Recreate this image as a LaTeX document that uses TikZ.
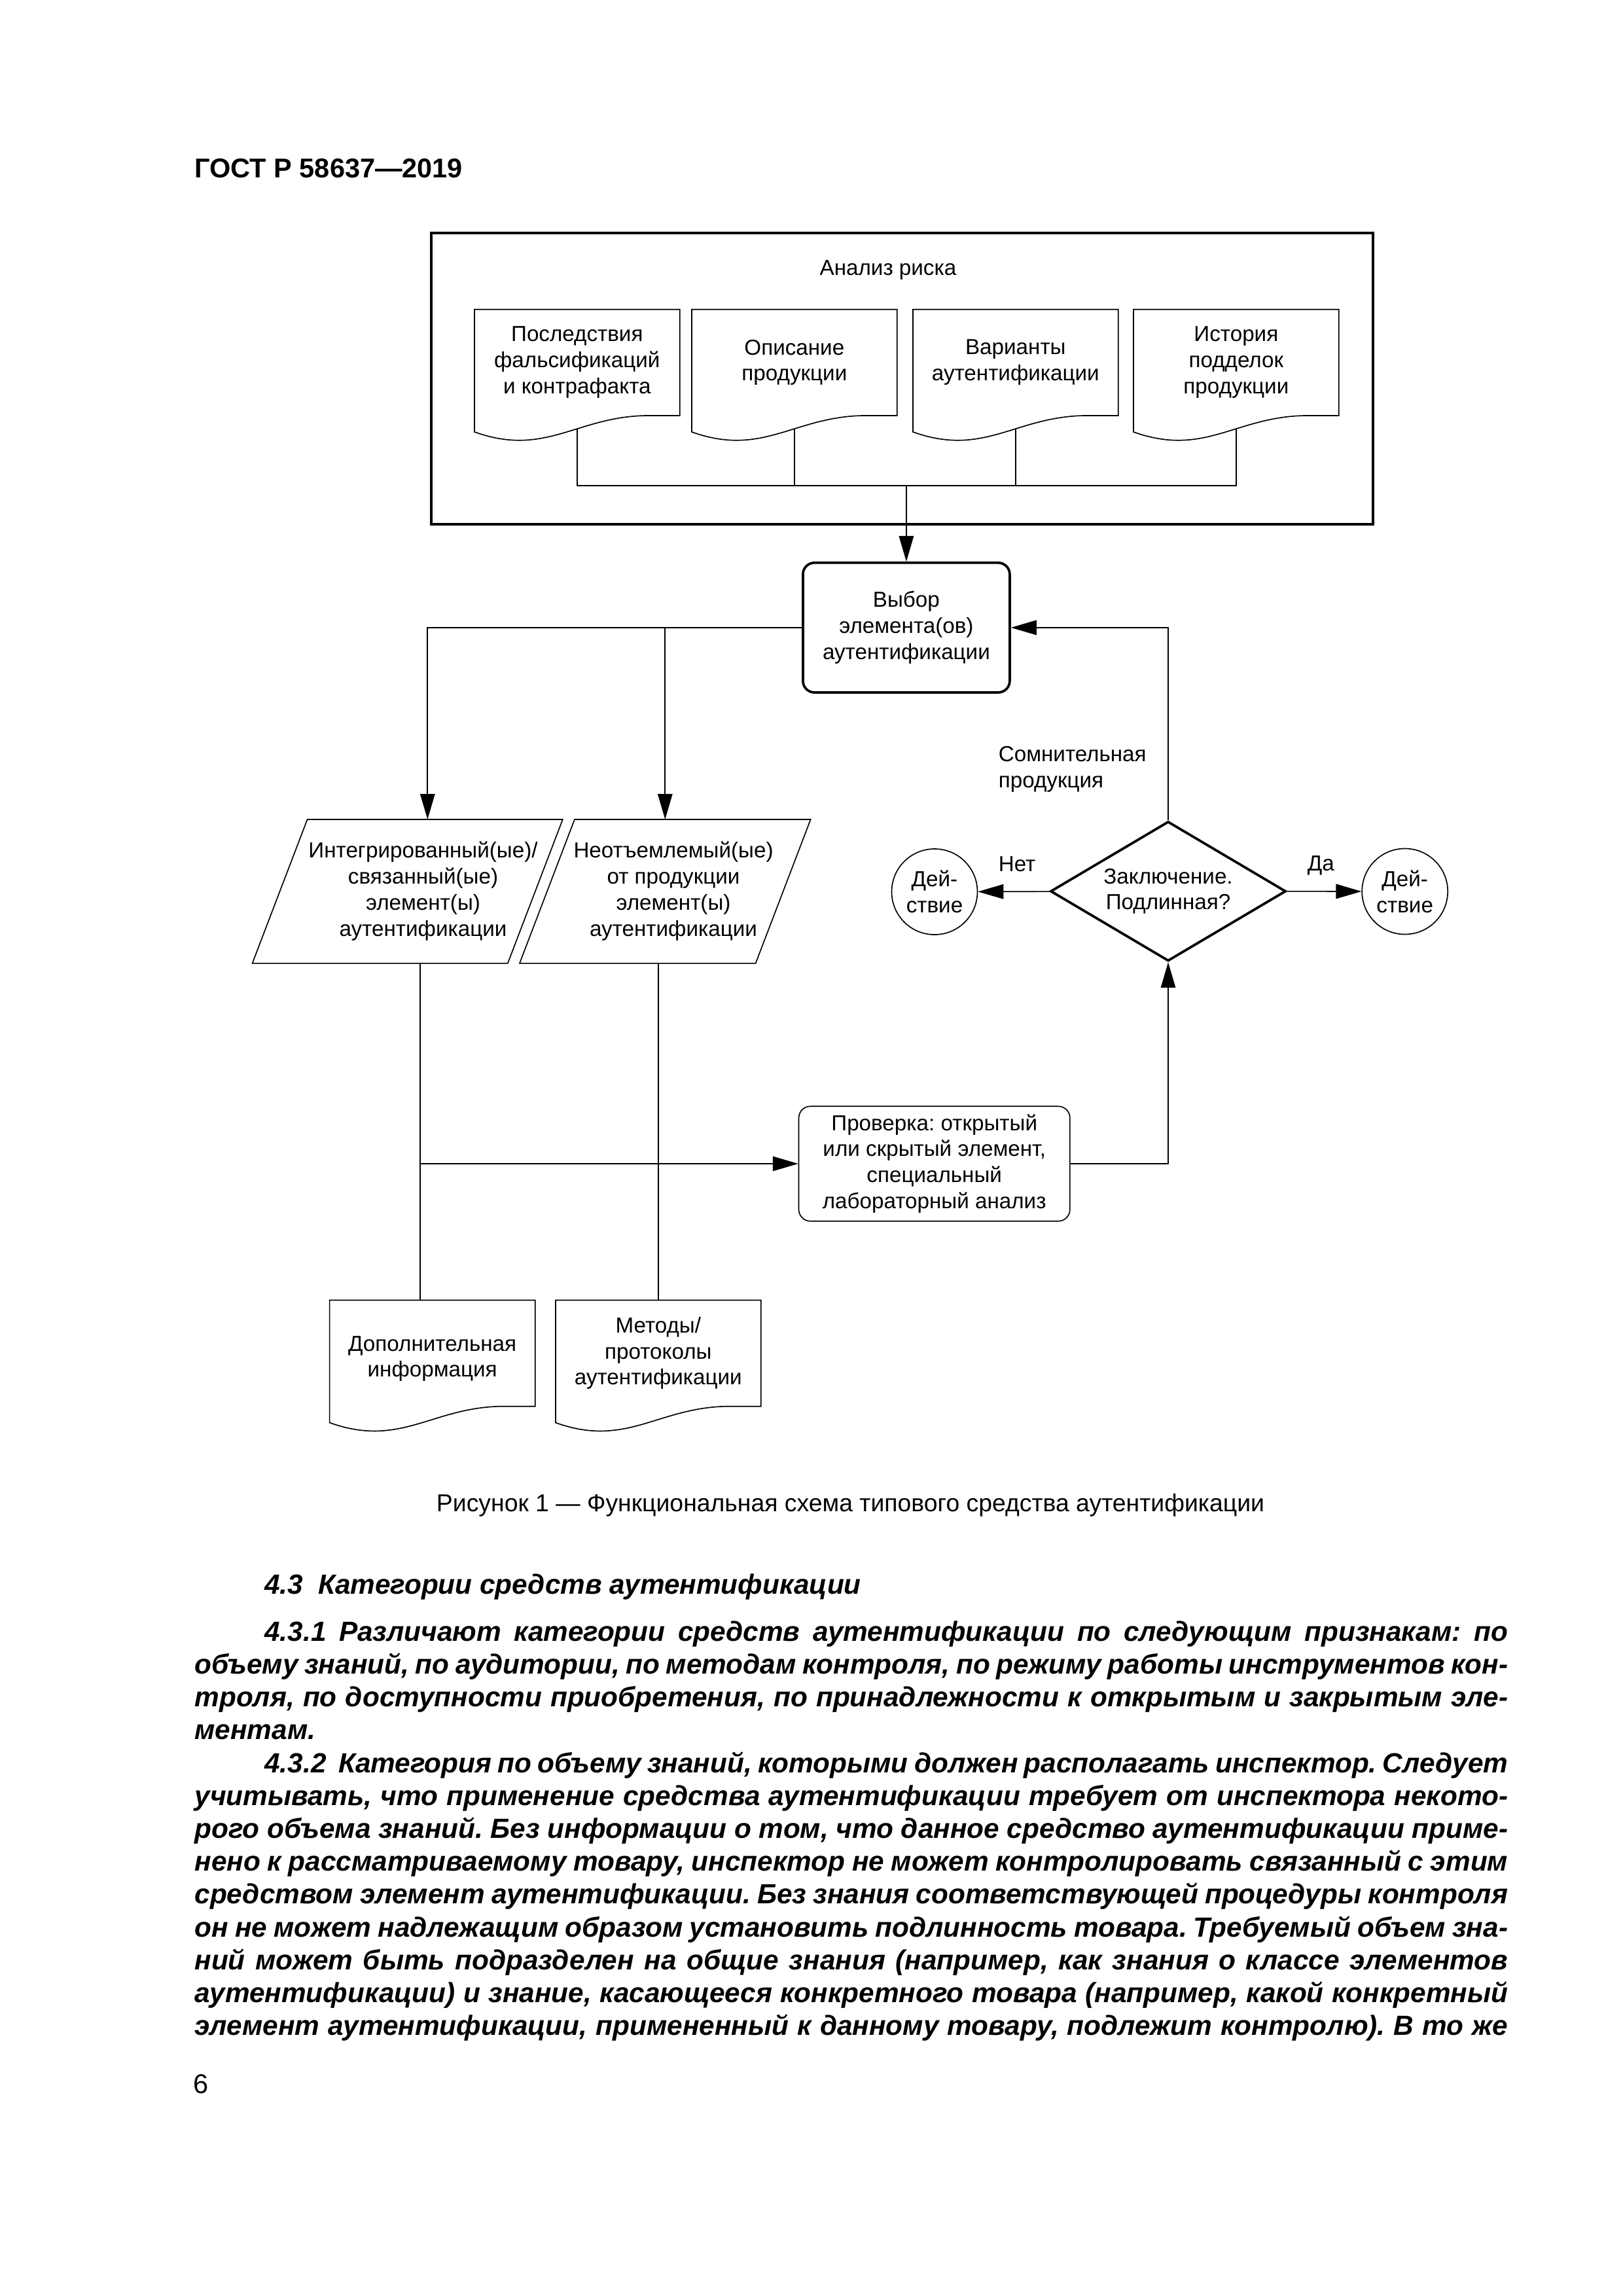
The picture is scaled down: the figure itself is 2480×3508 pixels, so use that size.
\documentclass[tikz,border=0pt]{standalone}
\usepackage{fontspec}
\setmainfont{Liberation Sans}
\usetikzlibrary{calc,shapes.geometric,arrows.meta}

\newlength{\pxu}
\setlength{\pxu}{0.0846667mm}
\newcommand{\jline}[1]{\makebox[169.9mm][s]{#1}}
\frenchspacing

\begin{document}
\begin{tikzpicture}[x=0.0846667mm, y=-0.0846667mm,
    thinline/.style ={line width=0.4pt},
    thickline/.style ={line width=0.9pt},
    arrowto/.style ={-{Triangle[length=3.3mm,width=1.9mm]}},
    note/.style ={inner sep=0pt, font=\fontsize{8}{9.6}\selectfont},
    docbox/.style ={anchor=north west, minimum width=312\pxu, minimum height=160.6\pxu,
      inner sep=0pt, align=center, font=\fontsize{8}{9.6}\selectfont},
    choicebox/.style ={draw, thickline, rounded corners=1.5mm, minimum width=316\pxu,
      minimum height=198.2\pxu, inner sep=0pt, align=center, font=\fontsize{8}{9.6}\selectfont},
    checkbox/.style ={draw, thinline, rounded corners=1.5mm, minimum width=414.3\pxu,
      minimum height=175.4\pxu, inner sep=0pt, align=center, font=\fontsize{8}{9.6}\selectfont},
    slantbox/.style ={inner sep=0pt, minimum height=218.2\pxu},
    verdictbox/.style ={diamond, aspect=1.69, draw, thickline, minimum width=359.7\pxu, minimum height=213.3\pxu,
      inner sep=0pt, align=center, font=\fontsize{8}{9.6}\selectfont},
    actbox/.style ={circle, draw, thinline, minimum size=131\pxu, inner sep=0pt, align=center,
      font=\fontsize{8}{9.6}\selectfont},
    bodyline/.style ={anchor=base west, inner sep=0pt, font=\fontsize{10.2}{12.08}\selectfont\bfseries\itshape}]

   \fill[white] (0,0) rectangle (2480,3508);
   \useasboundingbox (0,0) rectangle (2480,3508);

   \node[anchor=base west, inner sep=0pt, font=\fontsize{10}{12}\selectfont\bfseries] (head) at (296.7,271.7) {ГОСТ Р 58637—2019};

   % risk analysis block
   \node[draw, thickline, minimum width=1439\pxu, minimum height=445\pxu, inner sep=0pt] (risk) at (1378.5,578.5) {};
   \node[note] (risktitle) at (1357,413) {Анализ риска};
   \node[docbox] (d1) at (725,472.7) {Последствия\\фальсификаций\\и контрафакта};
   \node[docbox] (d2) at (1057,472.7) {Описание\\продукции};
   \node[docbox] (d3) at (1395,472.7) {Варианты\\аутентификации};
   \node[docbox] (d4) at (1732,472.7) {История\\подделок\\продукции};

   \node[choicebox] (choice) at (1384.9,958.9) {Выбор\\элемента(ов)\\аутентификации};

   \node[slantbox, minimum width=472.6\pxu] (p1) at (622.7,1361.9) {};
   \node[slantbox, minimum width=443\pxu] (p2) at (1016.3,1361.9) {};
   \node[note, align=center] (p1txt) at (646.5,1361.6) {Интегрированный(ые)/\\связанный(ые)\\элемент(ы)\\аутентификации};
   \node[note, align=center] (p2txt) at (1029,1361.6) {Неотъемлемый(ые)\\от продукции\\элемент(ы)\\аутентификации};

   \node[verdictbox] (verdict) at (1785,1361.7) {Заключение.\\Подлинная?};
   \node[actbox] (actL) at (1428,1362.5) {Дей-\\ствие};
   \node[actbox] (actR) at (2146.7,1362) {Дей-\\ствие};
   \node[note, anchor=west, align=left] (doubt) at (1525,1175) {Сомнительная\\продукция};
   \node[note, anchor=base west] (no) at (1525,1331.7) {Нет};
   \node[note, anchor=base west] (yes) at (1997,1330) {Да};

   \node[checkbox] (check) at (1427.7,1778) {Проверка: открытый\\или скрытый элемент,\\специальный\\лабораторный анализ};

   \node[docbox, minimum width=312.4\pxu] (d5) at (503.6,1986.4) {\mbox{}\\Дополнительная\\информация};
   \node[docbox] (d6) at (849,1986.4) {Методы/\\протоколы\\аутентификации};

   % document outlines
   \foreach \d in {d1,d2,d3,d4,d5,d6} {
     \draw[thinline] (\d.south east) -- (\d.north east) -- (\d.north west) -- ($(\d.south west)+(0,25)$)
       .. controls ($(\d.south west)!0.35!(\d.south east)+(0,64.4)$) and (\d.south)
       .. ($(\d.south west)!0.85!(\d.south east)$) -- cycle;
     \coordinate (\d-b) at ($(\d.south)+(0,20)$);
   }
   \draw[thinline] (p1.south west) -- ($(p1.north west)+(84,0)$) -- (p1.north east) -- ($(p1.south east)+(-84,0)$) -- cycle;
   \draw[thinline] (p2.south west) -- ($(p2.north west)+(84,0)$) -- (p2.north east) -- ($(p2.south east)+(-84,0)$) -- cycle;

   \coordinate (bus) at (1384.9,742.3);
   \coordinate (p1in) at ($(p1.north)+(30.6,0)$);
   \coordinate (p1out) at ($(p1.south)+(19,0)$);

   \draw[thinline] (d1-b) |- (d4-b |- bus) -- (d4-b);
   \draw[thinline] (d2-b) -- (d2-b |- bus);
   \draw[thinline] (d3-b) -- (d3-b |- bus);
   \draw[thinline, arrowto] (bus) -- (choice);
   \draw[thinline, arrowto] (choice.west) -| (p1in);
   \draw[thinline, arrowto] (p2.north |- choice.west) -- (p2.north);
   \draw[thinline] (p1out) -- (p1out |- d5.north);
   \draw[thinline] (d6.north |- p2.south) -- (d6.north);
   \draw[thinline, arrowto] (p1out |- check.west) -- (check.west);
   \draw[thinline, arrowto] (check.east) -| (verdict.south);
   \draw[thinline, arrowto] (verdict.north) |- (choice.east);
   \draw[thinline, arrowto] (verdict) -- (actL);
   \draw[thinline, arrowto] (verdict) -- (actR);

   \node[anchor=base, inner sep=0pt, font=\fontsize{9}{11}\selectfont] (caption) at (1299.5,2309) {Рисунок 1 — Функциональная схема типового средства аутентификации};

   % body text
   \node[bodyline] (h43) at (403.2,2435.5) {4.3\ \ Категории средств аутентификации};
   \node[bodyline] (a1) at (296.7,2507.2) {\jline{\hspace*{9.05mm}4.3.1 Различают категории средств аутентификации по следующим признакам: по}};
   \node[bodyline] (a2) at (296.7,2557.4) {\jline{объему знаний, по аудитории, по методам контроля, по режиму работы инструментов кон-}};
   \node[bodyline] (a3) at (296.7,2607.6) {\jline{троля, по доступности приобретения, по принадлежности к открытым и закрытым эле-}};
   \node[bodyline] (a4) at (296.7,2657.8) {ментам.};
   \node[bodyline] (b1) at (296.7,2708.0) {\jline{\hspace*{9.05mm}4.3.2\ \ Категория по объему знаний, которыми должен располагать инспектор. Следует}};
   \node[bodyline] (b2) at (296.7,2758.2) {\jline{учитывать, что применение средства аутентификации требует от инспектора некото-}};
   \node[bodyline] (b3) at (296.7,2808.4) {\jline{рого объема знаний. Без информации о том, что данное средство аутентификации приме-}};
   \node[bodyline] (b4) at (296.7,2858.6) {\jline{нено к рассматриваемому товару, инспектор не может контролировать связанный с этим}};
   \node[bodyline] (b5) at (296.7,2908.8) {\jline{средством элемент аутентификации. Без знания соответствующей процедуры контроля}};
   \node[bodyline] (b6) at (296.7,2959.0) {\jline{он не может надлежащим образом установить подлинность товара. Требуемый объем зна-}};
   \node[bodyline] (b7) at (296.7,3009.2) {\jline{ний может быть подразделен на общие знания (например, как знания о классе элементов}};
   \node[bodyline] (b8) at (296.7,3059.4) {\jline{аутентификации) и знание, касающееся конкретного товара (например, какой конкретный}};
   \node[bodyline] (b9) at (296.7,3109.6) {\jline{элемент аутентификации, примененный к данному товару, подлежит контролю). В то же}};

   \node[anchor=base west, inner sep=0pt, font=\fontsize{10}{12}\selectfont] (pagenum) at (295,3198.5) {6};
 \end{tikzpicture}
\end{document}
